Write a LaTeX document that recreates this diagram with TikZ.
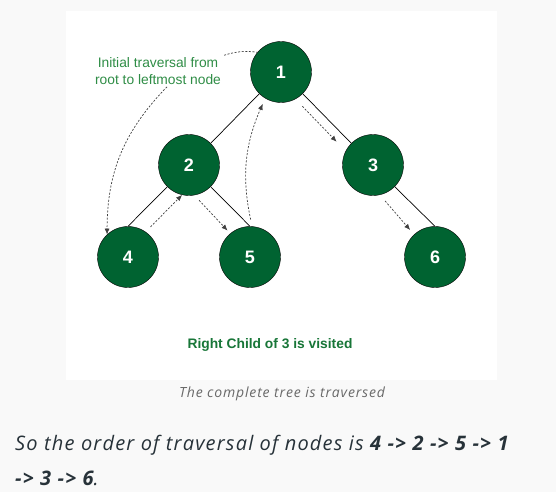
\documentclass[tikz,border=0pt]{standalone}
\usepackage{fontspec}
\setmainfont{Liberation Sans}
\newfontfamily\pagefont[LetterSpace=6]{Open Sans}
\usetikzlibrary{arrows.meta}

\definecolor{nodegreen}{RGB}{0,99,49}
\definecolor{notegreen}{RGB}{47,141,70}
\definecolor{titlegreen}{RGB}{24,118,56}
\definecolor{pagegray}{RGB}{249,249,249}
\definecolor{captiongray}{RGB}{105,105,105}
\definecolor{bodytext}{RGB}{39,50,57}

\tikzstyle{treenode} = [
        circle,
        minimum size=61pt,
        inner sep=0pt,
        draw=black,
        fill=nodegreen,
        text=white,
        font=\fontsize{18}{20}\selectfont\bfseries
    ]
\tikzstyle{edge} = [line width=0.7pt, black]
\tikzstyle{visit} = [
        line width=0.7pt,
        black!75,
        dash pattern=on 2pt off 1.6pt,
        -{Latex[length=6pt,width=5pt]}
    ]
\tikzstyle{hint} = [line width=0.7pt, black!75, dash pattern=on 2pt off 1.6pt]

\begin{document}
\begin{tikzpicture}[x=1pt, y=-1pt]
        \useasboundingbox [fill=pagegray] (0,0) rectangle (556,492);
        \fill [white] (66,11) rectangle (497,380);

        % tree
        \node (n1) [treenode] at (281,72) {1};
        \node (n2) [treenode] at (189,165) {2};
        \node (n3) [treenode] at (373,165) {3};
        \node (n4) [treenode] at (128,257) {4};
        \node (n5) [treenode] at (250,257) {5};
        \node (n6) [treenode] at (435,257) {6};

        \draw [edge] (n1.225) -- (n2.45);
        \draw [edge] (n1.315) -- (n3.135);
        \draw [edge] (n2.225) -- (n4.north);
        \draw [edge] (n2.315) -- (n5.north);
        \draw [edge] (n3.315) -- (n6.north);

        % note
        \node (note) [%
            align=center,%
            inner sep=0pt,%
            text=notegreen,%
            font=\fontsize{13.8}{17}\selectfont%
            ] at (158,71) {Initial traversal from\\root to leftmost node};

        \draw [hint] ([xshift=3pt, yshift=2pt]note.north east)
            to [bend left=12] (n1.140);
        \draw [visit] ([xshift=9pt, yshift=-2pt]note.south)
            to [bend right=22] (n4.133);

        % traversal order
        \draw [visit, shorten <=7pt] (n4.55) -- (n2.257);
        \draw [visit, shorten <=7pt, shorten >=4pt] (n2.280) -- (n5.130);
        \draw [visit, shorten <=7pt, shorten >=6pt] (n5.86) to [bend left=18] (n1.239);
        \draw [visit, shorten <=10pt, shorten >=13pt] (n1.298) -- (n3.153);
        \draw [visit, shorten <=8pt, shorten >=6pt] (n3.283) -- (n6.133);

        \node (title) [%
            text=titlegreen,%
            font=\fontsize{13.8}{17}\selectfont\bfseries%
            ] at (270,345) {Right Child of 3 is visited};

        % page text
        \node (caption) [%
            text=captiongray,%
            font=\pagefont\itshape\fontsize{14}{18}\selectfont%
            ] at (282,394) {The complete tree is traversed};

        \node (order) [%
            anchor=base west,%
            align=left,%
            inner sep=0pt,%
            text=bodytext,%
            font=\pagefont\itshape\fontsize{20}{35}\selectfont%
            ] at (15,485) {So the order of traversal of nodes is \textbf{4 -> 2 -> 5 -> 1}\\
            \textbf{-> 3 -> 6}.};
    \end{tikzpicture}
\end{document}
